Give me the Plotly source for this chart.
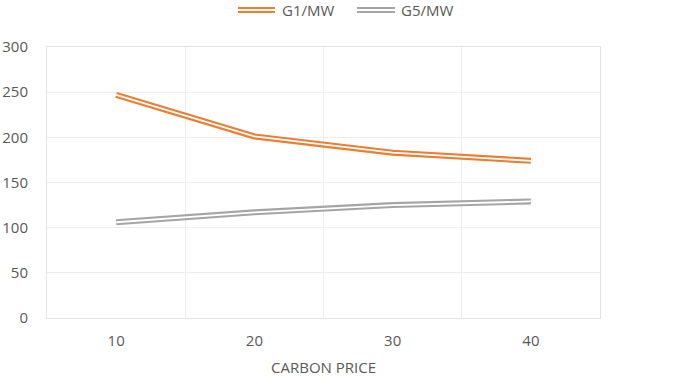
import plotly.graph_objects as go

categories = ["10", "20", "30", "40"]
g1_mw = [247, 201, 183, 174]
g5_mw = [106, 117, 125, 129]
series_names = ["G1/MW", "G5/MW"]
colors = ["#ED7D31", "#A5A5A5"]

W, H = 678, 377
ML, MR, MT, MB = 47, 78, 47, 59
PW, PH = W - ML - MR, H - MT - MB

def px_x(x):
    return (x - ML) / PW

def px_y(y):
    return (H - MB - y) / PH

fig = go.Figure()
for name, vals, col in zip(series_names, [g1_mw, g5_mw], colors):
    fig.add_trace(go.Scatter(x=categories, y=vals, mode="lines", name=name,
                             line=dict(color=col, width=6), showlegend=False))
    fig.add_trace(go.Scatter(x=categories, y=vals, mode="lines", name=name,
                             line=dict(color="white", width=1.8), showlegend=False,
                             hoverinfo="skip"))

font_col = "#595959"
legend_items = [(238, 275, 280), (357, 395, 399)]
for (x0, x1, tx), name, col in zip(legend_items, series_names, colors):
    for c, w in [(col, 6), ("white", 1.8)]:
        fig.add_shape(type="line", xref="paper", yref="paper",
                      x0=px_x(x0), x1=px_x(x1), y0=px_y(10), y1=px_y(10),
                      line=dict(color=c, width=w))
    fig.add_annotation(text=name, xref="paper", yref="paper",
                       x=px_x(tx), y=px_y(10),
                       xanchor="left", yanchor="middle", showarrow=False,
                       font=dict(size=15, color=font_col))

fig.update_layout(
    width=W, height=H,
    margin=dict(l=ML, r=MR, t=MT, b=MB, autoexpand=False),
    paper_bgcolor="white", plot_bgcolor="white",
    font=dict(family="Open Sans, sans-serif", size=15, color=font_col),
    showlegend=False,
)
fig.update_xaxes(type="category", tickson="boundaries", range=[-0.5, 3.5],
                 showgrid=True, gridcolor="#EDEDED", gridwidth=1, ticks="",
                 showline=True, linecolor="#E3E3E3", mirror=True,
                 automargin=False, ticklabelstandoff=9,
                 title=dict(text="CARBON PRICE", font=dict(size=15, color=font_col), standoff=14),
                 tickfont=dict(size=15, color=font_col))
fig.update_yaxes(range=[0, 300], dtick=50, showgrid=True, gridcolor="#EDEDED",
                 zeroline=False, showline=True, linecolor="#E3E3E3", mirror=True,
                 automargin=False, ticks="", ticklabelstandoff=15,
                 tickfont=dict(size=15, color=font_col))

fig.write_html("out.html", config={"displayModeBar": False},
               post_script="document.body.style.margin='0px';")
